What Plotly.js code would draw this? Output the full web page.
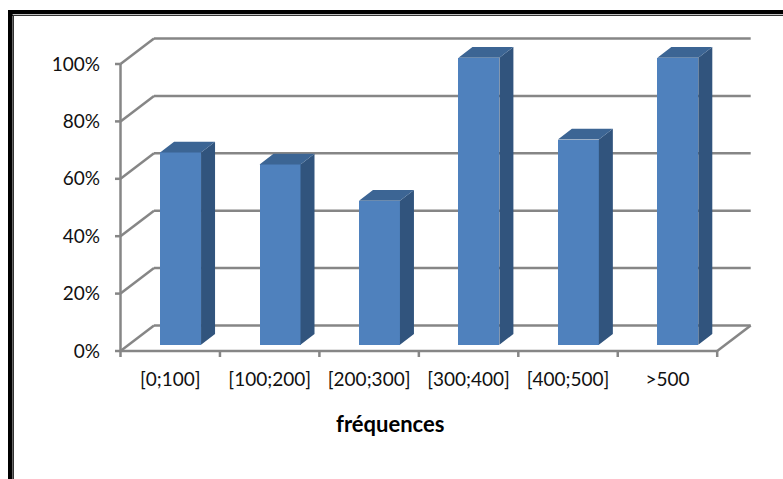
<!DOCTYPE html>
<html><head><meta charset="utf-8">
<script src="https://cdn.plot.ly/plotly-3.0.1.min.js"></script>
<style>html,body{margin:0;padding:0;background:#fff}#c{width:783px;height:479px}</style>
</head><body><div id="c"></div>
<script>
const categories = ['[0;100]','[100;200]','[200;300]','[300;400]','[400;500]','>500'];
const values = [67,62.8,50.2,100,71.5,100];
const gridValues = [0,20,40,60,80,100];

// geometry of the pseudo-3D box, in axis units (1 x unit = one category)
const W=783,H=479, L=112,R=23,T=20,B=119;
const pxX=99.45, pxY=2.87;            // pixels per axis unit
const x0Px=120.5;                     // pixel of x=0
const wallDx=33.5/pxX, wallDy=25.5/pxY;
const barDx=14/pxX, barDy=10.7/pxY, barBase=6.3/pxY, barShift=0.104, barW=0.412;
const nCat=categories.length;
const grey='#868686', lw=2.5;
const font="Lato, 'Open Sans', sans-serif";

const xr=[(L-x0Px)/pxX,(W-R-x0Px)/pxX];
const yr=[-(H-B-351)/pxY,(351-T)/pxY];
const centers=categories.map((_,i)=>i+0.5);
const barX=centers.map(c=>c+barShift);

const seg=(x1,y1,x2,y2)=>({type:'line',xref:'x',yref:'y',layer:'below',x0:x1,y0:y1,x1:x2,y1:y2,line:{color:grey,width:lw}});
const shapes=[];
gridValues.forEach(v=>{
  shapes.push(seg(wallDx,v+wallDy,nCat+wallDx,v+wallDy));   // back wall
  shapes.push(seg(0,v,wallDx,v+wallDy));                    // side wall
  shapes.push(seg(-5.5/pxX,v,0,v));                         // y tick
});
shapes.push(seg(0,0,0,100));                                // y axis
shapes.push(seg(0,0,nCat,0));                               // x axis
shapes.push(seg(nCat,0,nCat+wallDx,wallDy));                // floor right edge
for(let i=0;i<=nCat;i++) shapes.push(seg(i,0,i,-6/pxY));    // x ticks

// black frame, top and left only
const fx=p=>(p-L)/(W-L-R), fy=p=>1-(p-T)/(H-T-B);
const rect=(a,b,c,d,col)=>({type:'rect',xref:'paper',yref:'paper',x0:fx(a),x1:fx(c),y0:fy(b),y1:fy(d),fillcolor:col,line:{width:0},layer:'above'});
shapes.push(rect(8,10,783,14.3,'#000'));
shapes.push(rect(8,15,783,16,'#333'));
shapes.push(rect(8,10,12.6,479,'#000'));
shapes.push(rect(13,15,14,479,'#333'));

const front={type:'bar',x:barX,y:values,base:values.map(()=>barBase),width:barW,
  marker:{color:'#4F81BD',line:{width:0}},hoverinfo:'skip',name:'fréquences'};
const side={type:'scatter',mode:'lines',hoverinfo:'skip',fill:'toself',fillcolor:'#31547D',line:{width:0},
  x:[],y:[]};
const top_={type:'scatter',mode:'lines',hoverinfo:'skip',fill:'toself',fillcolor:'#3C6594',line:{width:0},
  x:[],y:[]};
values.forEach((v,i)=>{
  const r=barX[i]+barW/2, l=barX[i]-barW/2, t=v+barBase, b=barBase;
  side.x.push(r,r+barDx,r+barDx,r,r,null);
  side.y.push(b,b+barDy,t+barDy,t,b,null);
  top_.x.push(l,r,r+barDx,l+barDx,l,null);
  top_.y.push(t,t,t+barDy,t+barDy,t,null);
});

const layout={
  width:W,height:H,margin:{l:L,r:R,t:T,b:B},paper_bgcolor:'#fff',plot_bgcolor:'rgba(0,0,0,0)',
  showlegend:false,bargap:0,
  font:{family:font,size:19,color:'#000'},
  xaxis:{range:xr,tickmode:'array',tickvals:centers,ticktext:categories,ticks:'',showgrid:false,zeroline:false,showline:false,
    ticklabelstandoff:6,tickangle:0,tickfont:{family:font,size:19,color:'#111'}},
  yaxis:{range:yr,tickmode:'array',tickvals:gridValues,ticktext:gridValues.map(v=>v+'%'),ticks:'',showgrid:false,zeroline:false,showline:false,
    ticklabelstandoff:11,tickfont:{family:font,size:19,color:'#111'}},
  shapes:shapes,
  annotations:[{text:'<b>fréquences</b>',xref:'paper',yref:'paper',x:fx(390),y:fy(423),showarrow:false,xanchor:'center',yanchor:'middle',
    font:{family:font,size:22,color:'#000'}}]
};
Plotly.newPlot('c',[front,side,top_],layout,{displayModeBar:false,staticPlot:true});
</script></body></html>
